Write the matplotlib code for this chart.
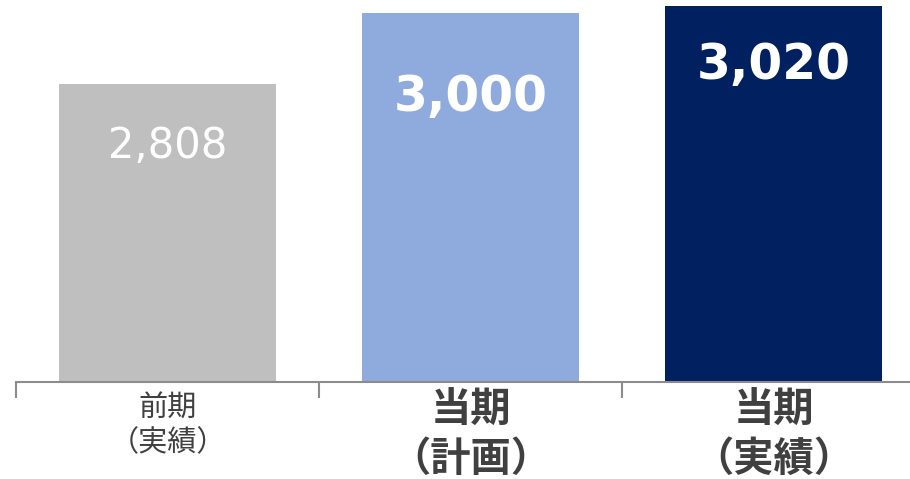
import matplotlib
matplotlib.use("Agg")
import matplotlib.pyplot as plt

categories = ["前期\n（実績）", "当期\n（計画）", "当期\n（実績）"]
values = [2808, 3000, 3020]
value_labels = ["2,808", "3,000", "3,020"]

colors = ["#BFBFBF", "#8FAADC", "#002060"]
label_bold = [False, True, True]
label_sizes = [21, 29, 29]
value_sizes = [30, 35, 35]
value_offsets = [-58, -79, -54]  # px below bar top to text center

plt.rcParams['font.family'] = ['Noto Sans CJK JP', 'DejaVu Sans']

fig = plt.figure(figsize=(9.10, 4.79), dpi=100)
W, H = 910, 479
ax = fig.add_axes([16 / W, 97.5 / H, 909 / W, 381.5 / H])

x = list(range(len(categories)))
bars = ax.bar(x, values, width=0.716, color=colors, zorder=2)
ax.set_xlim(-0.5, 2.5)
ax.set_ylim(2000, 3035)

for s in ["top", "right", "left"]:
    ax.spines[s].set_visible(False)
ax.spines["bottom"].set_color("#8C8C8C")
ax.spines["bottom"].set_linewidth(1.5)
ax.set_yticks([])

ax.set_xticks([-0.5, 0.5, 1.5, 2.5], minor=False)
ax.set_xticklabels([])
ax.tick_params(axis="x", which="major", length=11.5, width=1.5, color="#8C8C8C", direction="out")

for i, (cat, b) in enumerate(zip(categories, label_bold)):
    ax.annotate(cat, xy=(i, 2000), xycoords="data",
                xytext=(0, -12 if not b else -8), textcoords="offset pixels",
                ha="center", va="top", fontsize=label_sizes[i],
                fontweight="bold" if b else "normal", color="#404040",
                linespacing=1.22 if not b else 1.27,
                family=['Noto Sans CJK JP', 'DejaVu Sans'])

for i, (v, lab) in enumerate(zip(values, value_labels)):
    ax.annotate(lab, xy=(i, v), xycoords="data",
                xytext=(0, value_offsets[i]), textcoords="offset pixels",
                ha="center", va="center_baseline", fontsize=value_sizes[i],
                fontweight="normal" if i == 0 else "bold", color="white",
                family=['DejaVu Sans'])

fig.savefig("out.png", dpi=100)
